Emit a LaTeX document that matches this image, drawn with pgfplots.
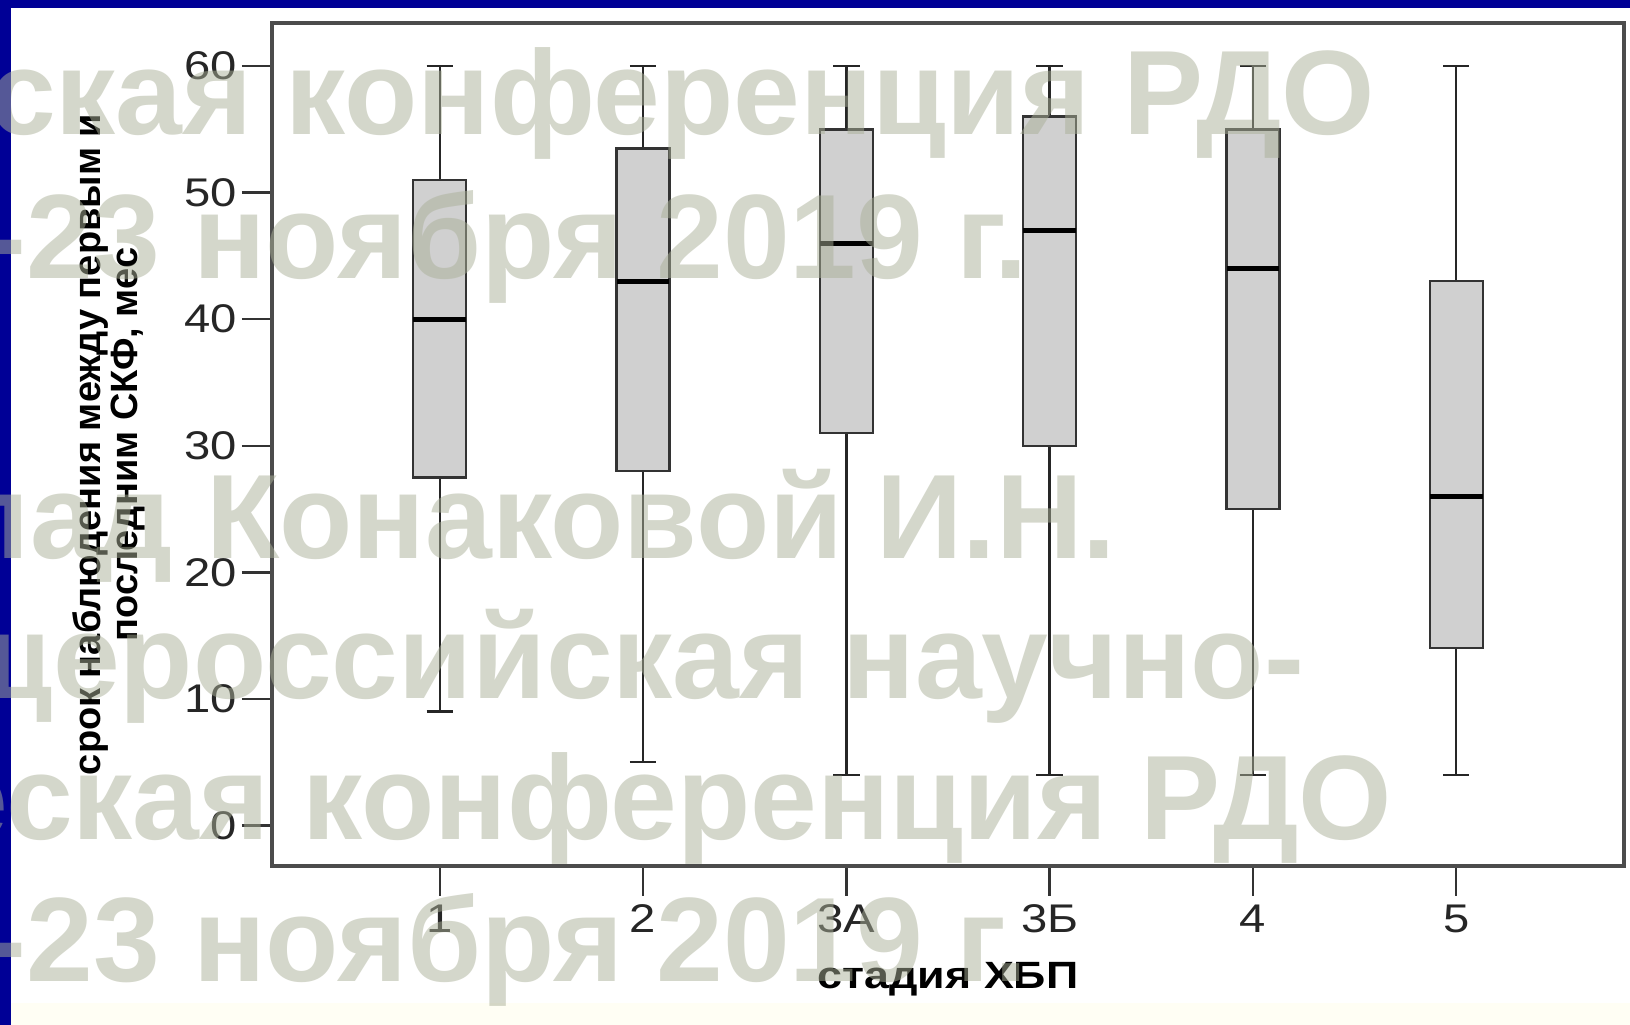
\documentclass[border=0pt]{standalone}
\usepackage{fontspec}
\setmainfont{Liberation Sans}[FakeStretch=1.18]
\newfontfamily\ylabfont{Liberation Sans}
\newfontfamily\wmfont{Liberation Sans}
\usepackage{pgfplots}
\pgfplotsset{compat=1.18}
\usepgfplotslibrary{statistics}
\definecolor{navy}{RGB}{0,0,150}
\definecolor{wm}{RGB}{170,176,152}
\definecolor{boxgray}{RGB}{208,208,208}
\definecolor{cream}{RGB}{255,254,244}
\begin{document}
\begin{tikzpicture}[x=1pt,y=1pt]
\useasboundingbox (0,0) rectangle (407.5,256.25);
\fill[white] (0,0) rectangle (407.5,256.25);
\fill[cream] (0,0) rectangle (407.5,5.5);
\fill[navy] (0,0) rectangle (2.75,256.25);
\fill[navy] (0,254.25) rectangle (407.5,256.25);
\begin{axis}[
  at={(68pt,39.75pt)}, anchor=south west,
  scale only axis, width=338pt, height=210.75pt,
  xmin=0.175, xmax=6.825, ymin=-3.2, ymax=63.4,
  xtick={1,2,3,4,5,6}, xticklabels={1,2,3А,3Б,4,5},
  ytick={0,10,20,30,40,50,60},
  /pgf/number format/assume math mode=true,
  tick pos=left, tick align=outside,
  major tick length=7.5pt,
  tick style={draw=black!80, line width=0.6pt},
  axis line style={draw=black!70, line width=0.8pt},
  ticklabel style={font=\fontsize{10}{12}\selectfont, text=black!85},
  xticklabel style={inner sep=2pt},
  yticklabel style={inner sep=1pt},
  xlabel={\bfseries стадия ХБП},
  xlabel style={at={(axis description cs:0.5,-0.134)}, anchor=center, font=\fontsize{9.5}{11}\selectfont},
  ylabel={срок наблюдения между первым и\\последним СКФ, мес},
  ylabel style={at={(axis description cs:-0.1206,0.5)}, anchor=center, align=center, rotate=0,
    font=\ylabfont\bfseries\fontsize{9.5}{9.4}\selectfont},
  boxplot/draw direction=y,
  boxplot/box extend=0.26,
  boxplot/whisker extend=0.13,
  boxplot/every median/.style={draw=black, line width=1.3pt},
  boxplot/every whisker/.style={draw=black!85, line width=0.6pt},
  boxplot/every box/.style={draw=black!80, fill=boxgray, line width=0.6pt},
]
\addplot[boxplot prepared={lower whisker=9, lower quartile=27.5, median=40, upper quartile=51, upper whisker=60, draw position=1}] coordinates {};
\addplot[boxplot prepared={lower whisker=5, lower quartile=28, median=43, upper quartile=53.5, upper whisker=60, draw position=2}] coordinates {};
\addplot[boxplot prepared={lower whisker=4, lower quartile=31, median=46, upper quartile=55, upper whisker=60, draw position=3}] coordinates {};
\addplot[boxplot prepared={lower whisker=4, lower quartile=30, median=47, upper quartile=56, upper whisker=60, draw position=4}] coordinates {};
\addplot[boxplot prepared={lower whisker=4, lower quartile=25, median=44, upper quartile=55, upper whisker=60, draw position=5}] coordinates {};
\addplot[boxplot prepared={lower whisker=4, lower quartile=14, median=26, upper quartile=43, upper whisker=60, draw position=6}] coordinates {};
\end{axis}
\begin{scope}[every node/.style={anchor=base east, inner sep=0pt, text=wm, text opacity=0.5, font=\wmfont\bfseries\fontsize{30}{30}\selectfont}]
\node at (344,222.5) {практическая конференция РДО};
\node at (257.25,186.5) {21-23 ноября 2019 г.};
\node at (279.25,116.5) {Доклад Конаковой И.Н.};
\node at (326.25,81.5) {Общероссийская научно-};
\node at (348.25,46.25) {практическая конференция РДО};
\node at (257.25,10.75) {21-23 ноября 2019 г.};
\end{scope}
\end{tikzpicture}
\end{document}
